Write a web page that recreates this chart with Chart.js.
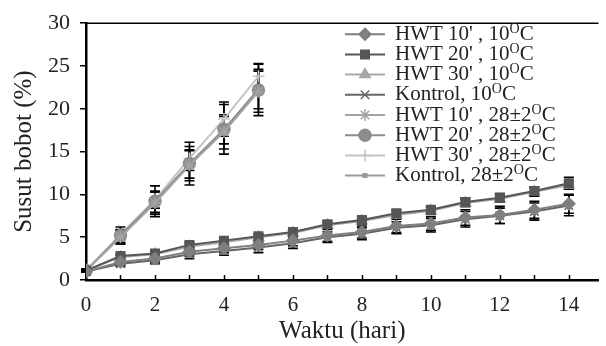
<!DOCTYPE html>
<html>
<head>
<meta charset="utf-8">
<script src="https://cdn.jsdelivr.net/npm/chart.js@4.4.1/dist/chart.umd.min.js"></script>
<style>
  html, body { margin: 0; padding: 0; background: #fff; }
  #wrap { width: 606px; height: 346px; }
</style>
</head>
<body>
<div id="wrap"><canvas id="grafik"></canvas></div>
<script>
// hari pengamatan
const hari10 = [0, 1, 2, 3, 4, 5, 6, 7, 8, 9, 10, 11, 12, 13, 14];
const hari28 = [0, 1, 2, 3, 4, 5];

const xTicks = [0, 2, 4, 6, 8, 10, 12, 14];
const yTicks = [0, 5, 10, 15, 20, 25, 30];

// susut bobot (%) - penyimpanan 10 C
const hwt10_10 = [1.0, 2.1, 2.5, 3.3, 3.7, 4.1, 4.6, 5.2, 5.6, 6.3, 6.6, 7.3, 7.6, 8.2, 8.9];
const hwt20_10 = [1.1, 2.8, 3.1, 4.1, 4.6, 5.1, 5.6, 6.5, 7.0, 7.8, 8.2, 9.1, 9.6, 10.4, 11.3];
const hwt30_10 = [1.1, 2.7, 3.0, 3.9, 4.4, 5.0, 5.5, 6.4, 6.9, 7.6, 8.1, 9.0, 9.5, 10.3, 11.1];
const kontrol_10 = [1.0, 1.9, 2.3, 3.0, 3.4, 3.8, 4.3, 5.0, 5.4, 6.1, 6.4, 7.1, 7.5, 8.0, 8.7];

// susut bobot (%) - penyimpanan 28±2 C
const hwt10_28 = [1.1, 5.0, 9.0, 13.4, 17.3, 22.0];
const hwt20_28 = [1.1, 5.2, 9.2, 13.6, 17.6, 22.2];
const hwt30_28 = [1.1, 5.3, 9.4, 14.2, 18.8, 23.8];
const kontrol_28 = [1.1, 5.1, 9.1, 13.5, 17.5, 22.3];

// standar deviasi (error bar)
const sd_hwt10_10 = [0.1, 0.3, 0.4, 0.5, 0.5, 0.5, 0.6, 0.7, 0.7, 0.8, 0.8, 0.9, 1.0, 1.0, 1.1];
const sd_hwt20_10 = [0.1, 0.2, 0.3, 0.3, 0.3, 0.3, 0.3, 0.4, 0.4, 0.4, 0.4, 0.5, 0.5, 0.5, 0.7];
const sd_hwt30_10 = [0.1, 0.2, 0.2, 0.3, 0.3, 0.3, 0.3, 0.3, 0.3, 0.4, 0.4, 0.4, 0.4, 0.5, 0.5];
const sd_kontrol_10 = [0.1, 0.3, 0.4, 0.5, 0.5, 0.6, 0.6, 0.6, 0.7, 0.7, 0.8, 0.9, 0.9, 1.0, 1.2];
const sd_hwt10_28 = [0.2, 0.8, 1.3, 1.8, 2.0, 2.4];
const sd_hwt20_28 = [0.2, 1.0, 1.8, 2.5, 2.9, 3.0];
const sd_hwt30_28 = [0.2, 0.6, 1.0, 1.4, 2.0, 1.5];
const sd_kontrol_28 = [0.2, 0.7, 1.2, 1.6, 1.6, 2.3];

const namaSeri = [
  "HWT 10' , 10ᴼC",
  "HWT 20' , 10ᴼC",
  "HWT 30' , 10ᴼC",
  "Kontrol, 10ᴼC",
  "HWT 10' , 28±2ᴼC",
  "HWT 20' , 28±2ᴼC",
  "HWT 30' , 28±2ᴼC",
  "Kontrol, 28±2ᴼC"
];

function titik(hari, nilai) {
  return hari.map((h, i) => ({ x: h, y: nilai[i] }));
}

function seri(i, hari, nilai, sd, warna, bentuk, radius) {
  return {
    label: namaSeri[i],
    data: titik(hari, nilai),
    sd: sd,
    borderColor: warna,
    backgroundColor: warna,
    borderWidth: 2,
    pointStyle: bentuk,
    pointRadius: radius,
    pointBorderWidth: 1.5,
    pointBorderColor: warna,
    pointBackgroundColor: warna,
    tension: 0
  };
}

const datasets = [
  seri(0, hari10, hwt10_10, sd_hwt10_10, '#7f7f7f', 'rectRot', 6),
  seri(1, hari10, hwt20_10, sd_hwt20_10, '#565656', 'rect', 6),
  seri(2, hari10, hwt30_10, sd_hwt30_10, '#a8a8a8', 'triangle', 6),
  seri(3, hari10, kontrol_10, sd_kontrol_10, '#666666', 'crossRot', 6),
  seri(4, hari28, hwt10_28, sd_hwt10_28, '#a3a3a3', 'star', 6),
  seri(5, hari28, hwt20_28, sd_hwt20_28, '#8c8c8c', 'circle', 6),
  seri(6, hari28, hwt30_28, sd_hwt30_28, '#c4c4c4', 'cross', 6),
  seri(7, hari28, kontrol_28, sd_kontrol_28, '#999999', 'rect', 2.5)
];

// error bar hitam di bawah garis
const errorBars = {
  id: 'errorBars',
  beforeDatasetsDraw(chart) {
    const { ctx, scales: { x, y } } = chart;
    ctx.save();
    ctx.strokeStyle = '#000';
    ctx.lineWidth = 1.6;
    chart.data.datasets.forEach(ds => {
      ds.data.forEach((p, i) => {
        const e = ds.sd[i];
        if (!e) return;
        const px = x.getPixelForValue(p.x);
        const yAtas = y.getPixelForValue(p.y + e);
        const yBawah = y.getPixelForValue(p.y - e);
        ctx.beginPath();
        ctx.moveTo(px, yAtas); ctx.lineTo(px, yBawah);
        ctx.moveTo(px - 5, yAtas); ctx.lineTo(px + 5, yAtas);
        ctx.moveTo(px - 5, yBawah); ctx.lineTo(px + 5, yBawah);
        ctx.stroke();
      });
    });
    ctx.restore();
  }
};

// garis atas + tick kecil ke dalam pada sumbu x
const bingkai = {
  id: 'bingkai',
  afterDraw(chart) {
    const { ctx, chartArea, scales: { x } } = chart;
    ctx.save();
    ctx.strokeStyle = '#000';
    ctx.lineWidth = 1.5;
    ctx.beginPath();
    ctx.moveTo(chartArea.left, chartArea.top);
    ctx.lineTo(chartArea.right, chartArea.top);
    ctx.stroke();
    ctx.beginPath();
    hari10.forEach(h => {
      if (h === 0) return;
      const px = Math.round(x.getPixelForValue(h)) + 0.5;
      ctx.moveTo(px, chartArea.bottom);
      ctx.lineTo(px, chartArea.bottom - 5);
    });
    ctx.stroke();
    ctx.restore();
  }
};

// legenda di dalam area grafik
const legenda = {
  id: 'legenda',
  afterDraw(chart) {
    const ctx = chart.ctx;
    const x0 = chart.chartArea.left + 259;
    ctx.save();
    chart.data.datasets.forEach((ds, i) => {
      const yy = chart.chartArea.top + 11 + i * 20.2;
      ctx.strokeStyle = ds.borderColor;
      ctx.fillStyle = ds.backgroundColor;
      ctx.lineWidth = 2;
      ctx.beginPath();
      ctx.moveTo(x0, yy);
      ctx.lineTo(x0 + 40, yy);
      ctx.stroke();
      ctx.lineWidth = 1.5;
      Chart.helpers.drawPoint(ctx, {
        pointStyle: ds.pointStyle, radius: ds.pointRadius, borderWidth: 1.5, rotation: 0
      }, x0 + 20, yy);

      const bagian = ds.label.split('ᴼ');
      let tx = x0 + 50;
      ctx.fillStyle = '#222';
      ctx.textBaseline = 'middle';
      ctx.font = '21px "Liberation Serif"';
      ctx.fillText(bagian[0], tx, yy);
      tx += ctx.measureText(bagian[0]).width;
      ctx.font = '14px "Liberation Serif"';
      ctx.fillText('O', tx, yy - 5);
      tx += ctx.measureText('O').width;
      ctx.font = '21px "Liberation Serif"';
      ctx.fillText(bagian[1], tx, yy);
    });
    ctx.restore();
  }
};

new Chart(document.getElementById('grafik'), {
  type: 'line',
  data: { datasets: datasets },
  options: {
    responsive: true,
    maintainAspectRatio: false,
    animation: false,
    layout: { padding: { top: 22, right: 0, left: 0, bottom: 0 } },
    plugins: {
      legend: { display: false },
      tooltip: { enabled: false }
    },
    scales: {
      x: {
        type: 'linear',
        min: 0,
        max: 14.86,
        afterBuildTicks: s => { s.ticks = xTicks.map(v => ({ value: v })); },
        afterFit: s => { s.height = 66; },
        grid: { display: false, drawTicks: false },
        border: { display: true, color: '#000', width: 2.5 },
        ticks: {
          color: '#222',
          padding: 13,
          maxRotation: 0,
          autoSkip: false,
          font: { family: 'Liberation Serif', size: 21 }
        },
        title: {
          display: true,
          text: 'Waktu (hari)',
          color: '#222',
          padding: { top: 5, bottom: 0 },
          font: { family: 'Liberation Serif', size: 25 }
        }
      },
      y: {
        min: 0,
        max: 30,
        afterBuildTicks: s => { s.ticks = yTicks.map(v => ({ value: v })); },
        afterFit: s => { s.width = 86; },
        grid: { drawOnChartArea: false, drawTicks: true, tickLength: 6, color: '#000', lineWidth: 1.5 },
        border: { display: true, color: '#000', width: 2.5 },
        ticks: {
          color: '#222',
          padding: 10,
          font: { family: 'Liberation Serif', size: 22 }
        },
        title: {
          display: true,
          text: 'Susut bobot (%)',
          color: '#222',
          padding: { top: 9, bottom: 0 },
          font: { family: 'Liberation Serif', size: 25 }
        }
      }
    }
  },
  plugins: [errorBars, bingkai, legenda]
});
</script>
</body>
</html>
